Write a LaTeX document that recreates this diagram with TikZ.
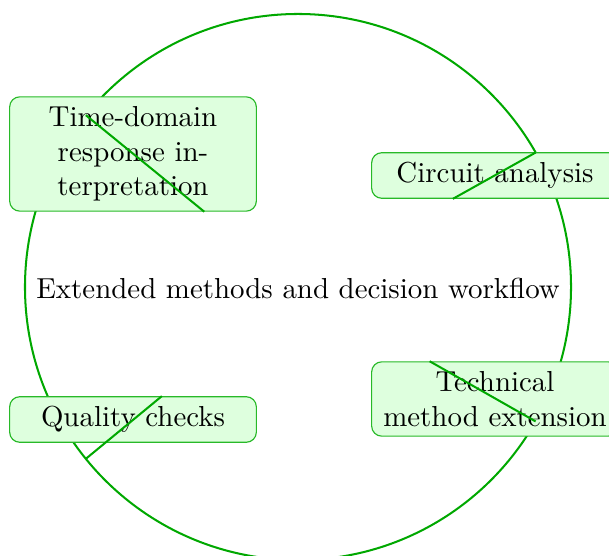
\documentclass[tikz,border=0pt]{standalone}
\definecolor{ringgreen}{RGB}{0,168,0}
\definecolor{boxfill}{RGB}{222,255,222}
\definecolor{boxline}{RGB}{40,185,40}
\tikzset{
  ring/.style={draw=ringgreen, line width=0.7pt},
  spoke/.style={draw=ringgreen, line width=0.7pt},
  stagebox/.style={draw=boxline, fill=boxfill, line width=0.4pt,
    rounded corners=3.5pt, minimum width=3cm, align=center}
}
\begin{document}
\begin{tikzpicture}[x=0.346pt, y=-0.346pt]
  \useasboundingbox (0,0) rectangle (609,556);
  \coordinate (C) at (298,287);
  % outer ring
  \draw[ring] (C) circle[radius=94.46pt];
  \node (title) at (298,288) {Extended methods and decision workflow};
  % stages
  \node[stagebox] (tdr) at (133,154) {Time-domain\\response in-\\terpretation};
  \node[stagebox] (circ) at (495,175.5) {Circuit analysis};
  \node[stagebox] (tech) at (495,399) {Technical\\method extension};
  \node[stagebox] (qc) at (133,419.5) {Quality checks};
  % points on the ring
  \coordinate (p1) at ([shift={(141:94.46pt)}]C);
  \coordinate (p2) at ([shift={(29.5:94.46pt)}]C);
  \coordinate (p3) at ([shift={(-29.5:94.46pt)}]C);
  \coordinate (p4) at ([shift={(219:94.46pt)}]C);
  % spokes through the stages
  \draw[spoke] (p1) -- (tdr.-39);
  \draw[spoke] (p2) -- (circ.209.5);
  \draw[spoke] (p3) -- (tech.150.5);
  \draw[spoke] (p4) -- (qc.39);
\end{tikzpicture}
\end{document}
